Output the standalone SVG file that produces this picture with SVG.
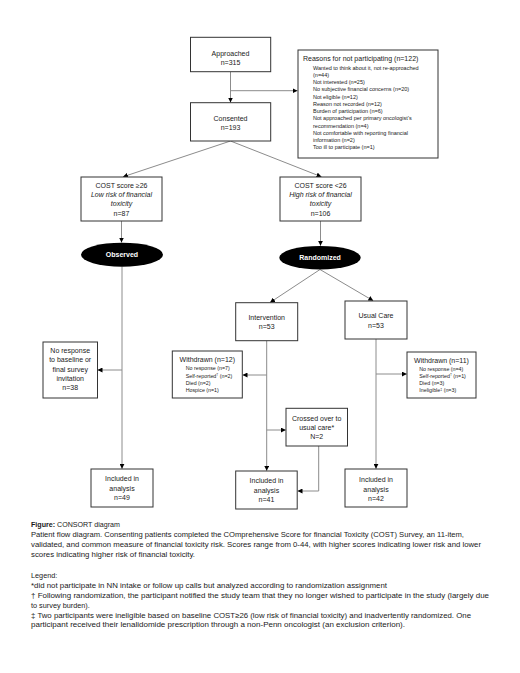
<svg xmlns="http://www.w3.org/2000/svg" width="520" height="673" viewBox="0 0 520 673">
<style>
text{font-family:"Liberation Sans",Arial,sans-serif;fill:#1a1a1a;}
.b{fill:#fff;stroke:#333;stroke-width:1;}
.t{font-size:7px;text-anchor:middle;}
.s{font-size:5.5px;}
.w{font-size:5.3px;}
.i{font-style:italic;}
.e{fill:#000;}
.et{font-size:7px;font-weight:bold;fill:#fff;text-anchor:middle;}
.c{fill:none;stroke:#8c8c8c;stroke-width:1;}
.cap{font-size:7.3px;}
</style>
<defs>
<marker id="ah" markerUnits="userSpaceOnUse" markerWidth="5" markerHeight="5" refX="5" refY="2.5" orient="auto">
<path d="M0,0 L5,2.5 L0,5 z" fill="#000"/>
</marker>
</defs>
<rect width="520" height="673" fill="#fff"/>

<g id="connectors">
<path class="c" d="M230.5,72 V102.5" marker-end="url(#ah)"/>
<path class="c" d="M230.5,90.7 H297.5" marker-end="url(#ah)"/>
<path class="c" d="M230.5,141 L123,176.8" marker-end="url(#ah)"/>
<path class="c" d="M230.5,141 L321.5,176.8" marker-end="url(#ah)"/>
<path class="c" d="M121.5,221 V242.5" marker-end="url(#ah)"/>
<path class="c" d="M320.5,221 V245.8" marker-end="url(#ah)"/>
<path class="c" d="M320,269.5 L270,302.5" marker-end="url(#ah)"/>
<path class="c" d="M320,269.5 L373.3,300.8" marker-end="url(#ah)"/>
<path class="c" d="M122,266.7 V468.8" marker-end="url(#ah)"/>
<path class="c" d="M122,370 H97.5" marker-end="url(#ah)"/>
<path class="c" d="M266.7,340.7 V470.8" marker-end="url(#ah)"/>
<path class="c" d="M266.7,375 H242.5" marker-end="url(#ah)"/>
<path class="c" d="M266.7,430 H285.8" marker-end="url(#ah)"/>
<path class="c" d="M318.7,446 V491 H297.5" marker-end="url(#ah)"/>
<path class="c" d="M376,339 V468.8" marker-end="url(#ah)"/>
<path class="c" d="M376,374 H406.8" marker-end="url(#ah)"/>
</g>

<g id="approached">
<rect class="b" x="190.5" y="37.3" width="80.2" height="34.4"/>
<text class="t" x="230.5" y="55.5">Approached</text>
<text class="t" x="230.5" y="65">n=315</text>
</g>

<g id="reasons">
<rect class="b" x="298" y="50" width="140" height="108"/>
<text x="303" y="61.4" style="font-size:7px">Reasons for not participating (n=122)</text>
<text class="s" x="313" y="69.6">Wanted to think about it, not re-approached</text>
<text class="s" x="313" y="76.8">(n=44)</text>
<text class="s" x="313" y="84.1">Not interested (n=25)</text>
<text class="s" x="313" y="91.3">No subjective financial concerns (n=20)</text>
<text class="s" x="313" y="98.6">Not eligible (n=12)</text>
<text class="s" x="313" y="105.8">Reason not recorded (n=12)</text>
<text class="s" x="313" y="113.1">Burden of participation (n=6)</text>
<text class="s" x="313" y="120.3">Not approached per primary oncologist’s</text>
<text class="s" x="313" y="127.6">recommendation (n=4)</text>
<text class="s" x="313" y="134.8">Not comfortable with reporting financial</text>
<text class="s" x="313" y="142.1">information (n=2)</text>
<text class="s" x="313" y="149.4">Too ill to participate (n=1)</text>
</g>

<g id="consented">
<rect class="b" x="190.5" y="102.7" width="80.2" height="38.3"/>
<text class="t" x="230.5" y="120.5">Consented</text>
<text class="t" x="230.5" y="129.5">n=193</text>
</g>

<g id="cost-low">
<rect class="b" x="81" y="177" width="81" height="44"/>
<text class="t" x="121.5" y="188.4">COST score ≥26</text>
<text class="t i" x="121.5" y="197.4">Low risk of financial</text>
<text class="t i" x="121.5" y="206.4">toxicity</text>
<text class="t" x="121.5" y="215.5">n=87</text>
</g>

<g id="cost-high">
<rect class="b" x="280" y="177" width="81" height="44"/>
<text class="t" x="320.5" y="188.4">COST score &lt;26</text>
<text class="t i" x="320.5" y="197.4">High risk of financial</text>
<text class="t i" x="320.5" y="206.4">toxicity</text>
<text class="t" x="320.5" y="215.5">n=106</text>
</g>

<g id="observed">
<ellipse class="e" cx="122" cy="254.7" rx="41" ry="12"/>
<text class="et" x="122" y="257.2">Observed</text>
</g>

<g id="randomized">
<ellipse class="e" cx="320" cy="257.7" rx="40.7" ry="11.8"/>
<text class="et" x="320" y="260.2">Randomized</text>
</g>

<g id="intervention">
<rect class="b" x="235.7" y="302.7" width="62" height="38"/>
<text class="t" x="266.7" y="319.7">Intervention</text>
<text class="t" x="266.7" y="329">n=53</text>
</g>

<g id="usual-care">
<rect class="b" x="345" y="301" width="62" height="38"/>
<text class="t" x="376" y="318">Usual Care</text>
<text class="t" x="376" y="327.5">n=53</text>
</g>

<g id="no-response">
<rect class="b" x="43" y="342" width="54.5" height="56"/>
<text class="t" x="70.2" y="353">No response</text>
<text class="t" x="70.2" y="362.3">to baseline or</text>
<text class="t" x="70.2" y="371.6">final survey</text>
<text class="t" x="70.2" y="380.9">invitation</text>
<text class="t" x="70.2" y="390.2">n=38</text>
</g>

<g id="withdrawn-int">
<rect class="b" x="172.3" y="351" width="70" height="47"/>
<text class="t" x="207.3" y="362.4">Withdrawn (n=12)</text>
<text class="w" x="185.7" y="370.4">No response (n=7)</text>
<text class="w" x="185.7" y="377.5">Self-reported<tspan font-size="3.5" dy="-1.8">†</tspan><tspan dy="1.8"> (n=2)</tspan></text>
<text class="w" x="185.7" y="384.6">Died (n=2)</text>
<text class="w" x="185.7" y="391.7">Hospice (n=1)</text>
</g>

<g id="withdrawn-uc">
<rect class="b" x="407" y="352" width="69" height="46"/>
<text class="t" x="441.5" y="363">Withdrawn (n=11)</text>
<text class="w" x="419.3" y="370.6">No response (n=4)</text>
<text class="w" x="419.3" y="377.8">Self-reported<tspan font-size="3.5" dy="-1.8">†</tspan><tspan dy="1.8"> (n=1)</tspan></text>
<text class="w" x="419.3" y="385">Died (n=3)</text>
<text class="w" x="419.3" y="392.3">Ineligible<tspan font-size="3.5" dy="-1.8">‡</tspan><tspan dy="1.8"> (n=3)</tspan></text>
</g>

<g id="crossed-over">
<rect class="b" x="286" y="408.3" width="61.5" height="37.7"/>
<text class="t" x="316.7" y="420.7">Crossed over to</text>
<text class="t" x="316.7" y="429.7">usual care*</text>
<text class="t" x="316.7" y="439.1">N=2</text>
</g>

<g id="included-obs">
<rect class="b" x="91" y="469" width="62" height="38"/>
<text class="t" x="122" y="481.4">Included in</text>
<text class="t" x="122" y="490.7">analysis</text>
<text class="t" x="122" y="500.1">n=49</text>
</g>

<g id="included-int">
<rect class="b" x="235.7" y="471" width="61.5" height="38"/>
<text class="t" x="266.5" y="483.4">Included in</text>
<text class="t" x="266.5" y="493.1">analysis</text>
<text class="t" x="266.5" y="502.4">n=41</text>
</g>

<g id="included-uc">
<rect class="b" x="345" y="469" width="62" height="38"/>
<text class="t" x="376" y="482.4">Included in</text>
<text class="t" x="376" y="491.7">analysis</text>
<text class="t" x="376" y="501.1">n=42</text>
</g>

<g id="caption">
<text class="cap" x="31" y="527" textLength="89" lengthAdjust="spacingAndGlyphs"><tspan font-weight="bold">Figure:</tspan> CONSORT diagram</text>
<text class="cap" x="31" y="537" textLength="433" lengthAdjust="spacingAndGlyphs">Patient flow diagram. Consenting patients completed the COmprehensive Score for financial Toxicity (COST) Survey, an 11-item,</text>
<text class="cap" x="31" y="547" textLength="450" lengthAdjust="spacingAndGlyphs">validated, and common measure of financial toxicity risk. Scores range from 0-44, with higher scores indicating lower risk and lower</text>
<text class="cap" x="31" y="557" textLength="164" lengthAdjust="spacingAndGlyphs">scores indicating higher risk of financial toxicity.</text>
<text class="cap" x="31" y="578">Legend:</text>
<text class="cap" x="31" y="587.5" textLength="356" lengthAdjust="spacingAndGlyphs">*did not participate in NN intake or follow up calls but analyzed according to randomization assignment</text>
<text class="cap" x="31" y="597.5" textLength="458" lengthAdjust="spacingAndGlyphs">† Following randomization, the participant notified the study team that they no longer wished to participate in the study (largely due</text>
<text class="cap" x="31" y="607.5">to survey burden).</text>
<text class="cap" x="31" y="617.5" textLength="440" lengthAdjust="spacingAndGlyphs">‡ Two participants were ineligible based on baseline COST≥26 (low risk of financial toxicity) and inadvertently randomized. One</text>
<text class="cap" x="31" y="627" textLength="374" lengthAdjust="spacingAndGlyphs">participant received their lenalidomide prescription through a non-Penn oncologist (an exclusion criterion).</text>
</g>
</svg>
